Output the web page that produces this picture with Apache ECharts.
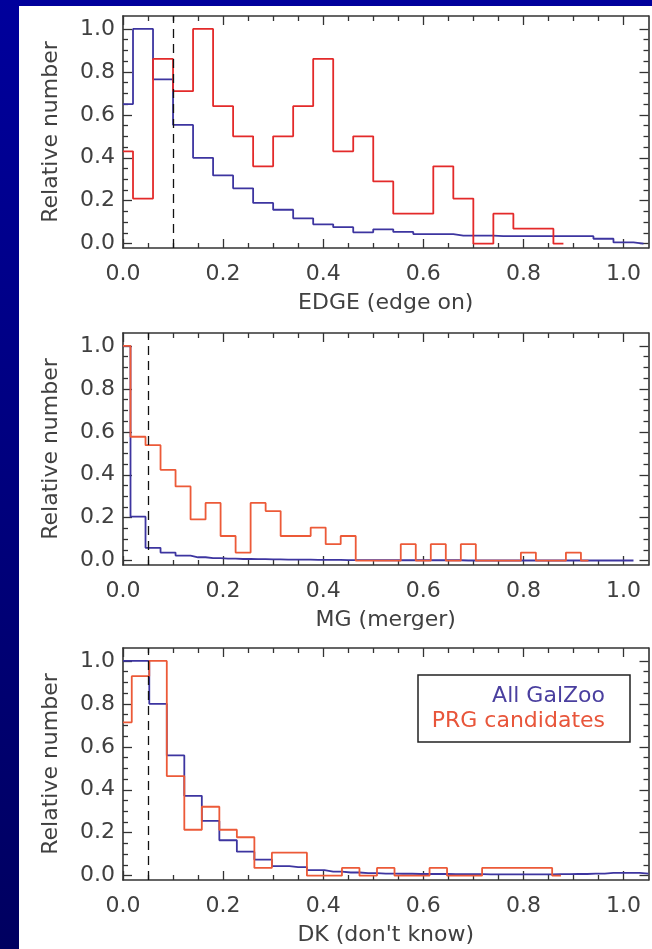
<!DOCTYPE html>
<html><head><meta charset="utf-8">
<script src="https://cdn.jsdelivr.net/npm/echarts@6/dist/echarts.min.js"></script>
<style>
html,body{margin:0;padding:0;width:652px;height:949px;overflow:hidden;background:linear-gradient(#00009c,#000060);}
#panel{position:absolute;left:19px;top:6px;width:633px;height:943px;background:#fff;}
#chart{position:absolute;left:0;top:0;width:652px;height:949px;}
</style></head><body><div id="panel"></div><div id="chart"></div>
<script>
// ---------- data ----------
const xTicks = [0, 0.2, 0.4, 0.6, 0.8, 1.0];
const xMinorTicks = [0.05,0.1,0.15,0.25,0.3,0.35,0.45,0.5,0.55,0.65,0.7,0.75,0.85,0.9,0.95];
const yTicks = [0, 0.2, 0.4, 0.6, 0.8, 1.0];
const yMinorTicks = [0.05,0.1,0.15,0.25,0.3,0.35,0.45,0.5,0.55,0.65,0.7,0.75,0.85,0.9,0.95];

const axisTitles = ['EDGE (edge on)', 'MG (merger)', "DK (don't know)"];
const yTitle = 'Relative number';
const legendNames = ['All GalZoo', 'PRG candidates'];
const cutValues = [0.10, 0.05, 0.05];

// EDGE histogram (bin centres, width 0.04)
const edgeBins = [0,0.04,0.08,0.12,0.16,0.20,0.24,0.28,0.32,0.36,0.40,0.44,0.48,0.52,0.56,0.60,0.64,0.68,0.72,0.76,0.80,0.84,0.88,0.92,0.96,1.00,1.04];
const edgeAll = [0.65,1.0,0.765,0.553,0.40,0.318,0.258,0.19,0.158,0.118,0.09,0.077,0.053,0.067,0.055,0.045,0.045,0.038,0.038,0.035,0.035,0.035,0.035,0.035,0.023,0.006,0.0];
const edgePrg = [0.43,0.21,0.86,0.71,1.0,0.64,0.50,0.36,0.50,0.64,0.86,0.43,0.50,0.29,0.14,0.14,0.36,0.21,0.0,0.14,0.07,0.07,0.0];

// MG histogram (bin centres, width 0.03)
const mgBins = [0,0.03,0.06,0.09,0.12,0.15,0.18,0.21,0.24,0.27,0.30,0.33,0.36,0.39,0.42,0.45,0.48,0.51,0.54,0.57,0.60,0.63,0.66,0.69,0.72,0.75,0.78,0.81,0.84,0.87,0.90,0.93,0.96,0.99,1.02];
const mgAll = [1.0,0.205,0.06,0.038,0.024,0.016,0.012,0.010,0.008,0.007,0.006,0.005,0.005,0.004,0.004,0.003,0.003,0.002,0.002,0.002,0.002,0.002,0.002,0.001,0.001,0.001,0.001,0.001,0.001,0.001,0.001,0.001,0.001,0.001,0.001];
const mgPrg = [1.0,0.577,0.538,0.423,0.346,0.192,0.269,0.115,0.038,0.269,0.231,0.115,0.115,0.154,0.077,0.115,0,0,0,0.077,0,0.077,0,0.077,0,0,0,0.038,0,0,0.038,0];

// DK histogram (bin centres, width 0.035)
const dkBins = [0,0.035,0.07,0.105,0.14,0.175,0.21,0.245,0.28,0.315,0.35,0.385,0.42,0.455,0.49,0.525,0.56,0.595,0.63,0.665,0.70,0.735,0.77,0.805,0.84,0.875,0.91,0.945,0.98,1.015,1.05];
const dkAll = [1.0,1.0,0.80,0.56,0.372,0.255,0.165,0.112,0.075,0.045,0.04,0.026,0.019,0.015,0.012,0.010,0.009,0.008,0.008,0.007,0.007,0.006,0.006,0.006,0.006,0.007,0.008,0.010,0.013,0.013,0.010];
const dkPrg = [0.714,0.929,1.0,0.464,0.214,0.321,0.214,0.179,0.036,0.107,0.107,0,0,0.036,0,0.036,0,0,0.036,0,0,0.036,0.036,0.036,0.036,0];

// ---------- layout / style ----------
const FONT = 'DejaVu Sans';
const TXT = '#404040';
const AXC = '#333';
const BLUE = '#3d35a0';
const REDS = ['#e32a2a', '#ec5a38', '#ec5a38'];
const gridTops = [16, 333, 648];
const GRID_H = 232;
const X_MAX = 1.05, Y_MIN = -0.02, Y_MAX = 1.06;

const panels = [
  {bins: edgeBins, all: edgeAll, prg: edgePrg},
  {bins: mgBins, all: mgAll, prg: mgPrg},
  {bins: dkBins, all: dkAll, prg: dkPrg}
];

const pairs = (bins, vals) => vals.map((v, i) => [bins[i], v]);
const txt = {fontFamily: FONT, fontSize: 22, color: TXT};

const grids = [], xAxes = [], yAxes = [], series = [];
panels.forEach((p, g) => {
  grids.push({left: 123, width: 525.5, top: gridTops[g], height: GRID_H, outerBoundsMode: 'none', containLabel: false});
  const xb = {gridIndex: g, type: 'value', min: 0, max: X_MAX, splitLine: {show: false}};
  xAxes.push(
    Object.assign({}, xb, {position: 'bottom', name: axisTitles[g], nameLocation: 'middle', nameGap: 44, nameTextStyle: txt,
      axisLine: {show: true, onZero: false, lineStyle: {color: AXC, width: 1.6}},
      axisTick: {show: true, inside: true, length: 9, customValues: xTicks, lineStyle: {color: AXC, width: 1.3}},
      axisLabel: Object.assign({show: true, customValues: xTicks, margin: 15, formatter: v => v.toFixed(1)}, txt)}),
    Object.assign({}, xb, {position: 'bottom', axisLine: {show: false, onZero: false},
      axisTick: {show: true, inside: true, length: 5, customValues: xMinorTicks, lineStyle: {color: AXC, width: 1.3}},
      axisLabel: {show: false}}),
    Object.assign({}, xb, {position: 'top', axisLine: {show: true, onZero: false, lineStyle: {color: AXC, width: 1.6}},
      axisTick: {show: true, inside: true, length: 9, customValues: xTicks, lineStyle: {color: AXC, width: 1.3}},
      axisLabel: {show: false}}),
    Object.assign({}, xb, {position: 'top', axisLine: {show: false, onZero: false},
      axisTick: {show: true, inside: true, length: 5, customValues: xMinorTicks, lineStyle: {color: AXC, width: 1.3}},
      axisLabel: {show: false}})
  );
  const yb = {gridIndex: g, type: 'value', min: Y_MIN, max: Y_MAX, splitLine: {show: false}};
  yAxes.push(
    Object.assign({}, yb, {position: 'left', name: yTitle, nameLocation: 'middle', nameGap: 61, nameRotate: 90, nameTextStyle: txt,
      axisLine: {show: true, onZero: false, lineStyle: {color: AXC, width: 1.6}},
      axisTick: {show: true, inside: true, length: 9, customValues: yTicks, lineStyle: {color: AXC, width: 1.3}},
      axisLabel: Object.assign({show: true, customValues: yTicks, margin: 8, formatter: v => v.toFixed(1)}, txt)}),
    Object.assign({}, yb, {position: 'left', axisLine: {show: false, onZero: false},
      axisTick: {show: true, inside: true, length: 5, customValues: yMinorTicks, lineStyle: {color: AXC, width: 1.3}},
      axisLabel: {show: false}}),
    Object.assign({}, yb, {position: 'right', axisLine: {show: true, onZero: false, lineStyle: {color: AXC, width: 1.6}},
      axisTick: {show: true, inside: true, length: 9, customValues: yTicks, lineStyle: {color: AXC, width: 1.3}},
      axisLabel: {show: false}}),
    Object.assign({}, yb, {position: 'right', axisLine: {show: false, onZero: false},
      axisTick: {show: true, inside: true, length: 5, customValues: yMinorTicks, lineStyle: {color: AXC, width: 1.3}},
      axisLabel: {show: false}})
  );
  series.push({
    type: 'line', name: legendNames[0], xAxisIndex: 4 * g, yAxisIndex: 4 * g, step: 'middle', showSymbol: false, symbol: 'none',
    lineStyle: {color: BLUE, width: 1.8}, data: pairs(p.bins, p.all), z: 3,
    markLine: {silent: true, symbol: ['none', 'none'], label: {show: false},
      lineStyle: {type: [9, 6], color: '#111', width: 1.3}, data: [{xAxis: cutValues[g]}]}
  });
  series.push({
    type: 'line', name: legendNames[1], xAxisIndex: 4 * g, yAxisIndex: 4 * g, step: 'middle', showSymbol: false, symbol: 'none',
    lineStyle: {color: REDS[g], width: 1.8}, data: pairs(p.bins, p.prg), z: 4
  });
});

const chart = echarts.init(document.getElementById('chart'), null, {renderer: 'canvas'});
chart.setOption({
  animation: false,
  backgroundColor: 'transparent',
  grid: grids, xAxis: xAxes, yAxis: yAxes, series: series,
  graphic: [
    {type: 'rect', shape: {x: 418, y: 675, width: 212, height: 67}, style: {fill: 'none', stroke: '#222', lineWidth: 1.5}, z: 100},
    {type: 'text', x: 605, y: 696, style: {text: legendNames[0], fill: '#4a3f9f', font: '22px "DejaVu Sans"', align: 'right', verticalAlign: 'middle'}, z: 101},
    {type: 'text', x: 605, y: 721, style: {text: legendNames[1], fill: '#e8553a', font: '22px "DejaVu Sans"', align: 'right', verticalAlign: 'middle'}, z: 101}
  ]
});
</script></body></html>
